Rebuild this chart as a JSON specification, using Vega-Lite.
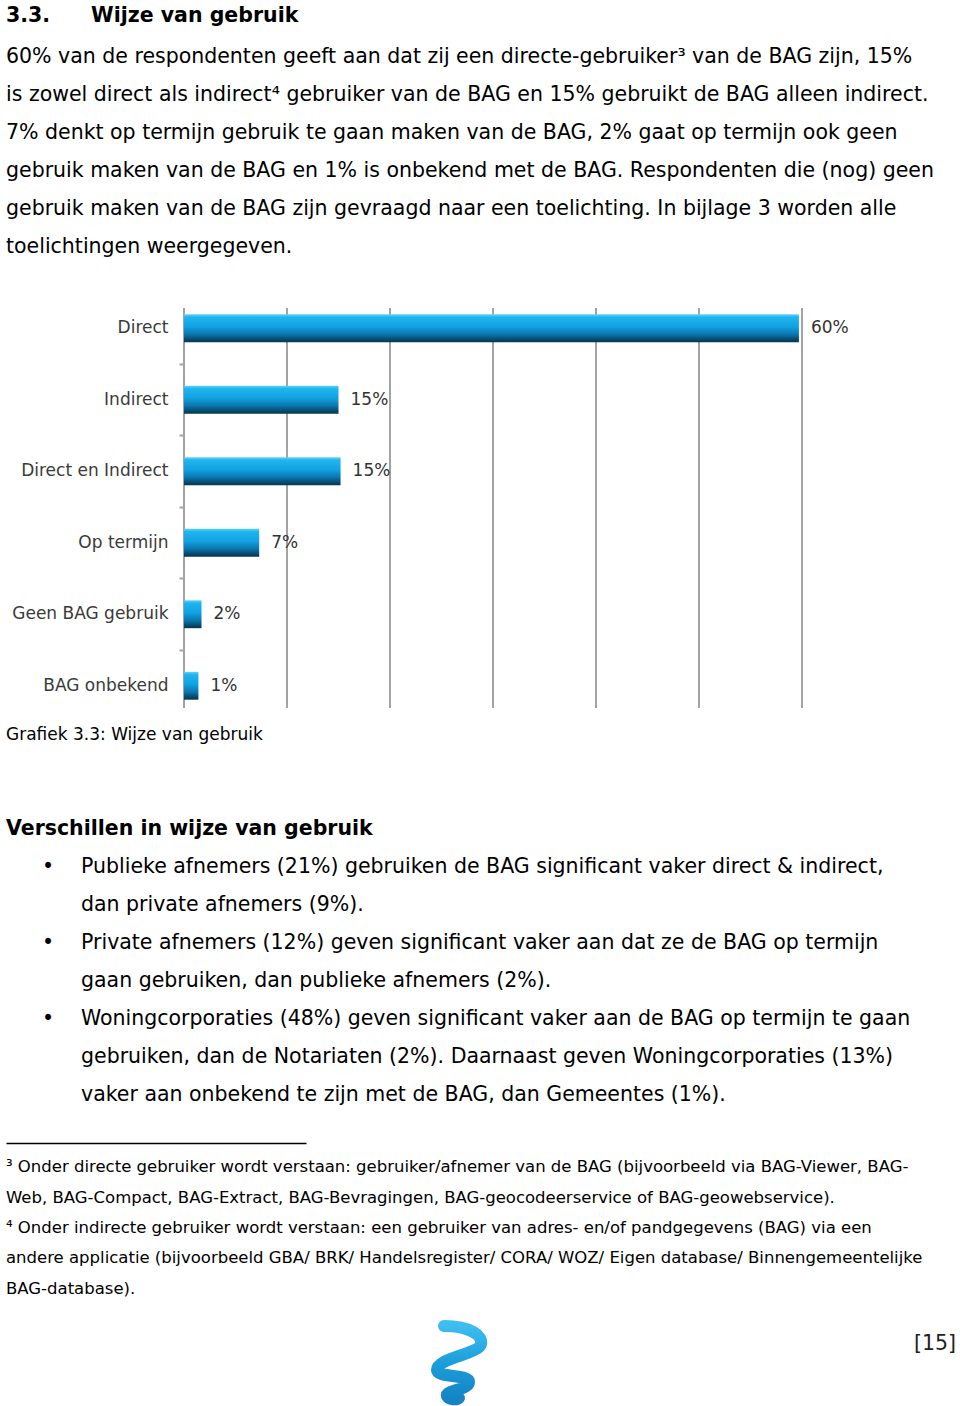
{
  "$schema": "https://vega.github.io/schema/vega-lite/v6.json",
  "background": "white",
  "padding": 5,
  "config": {"view": {"stroke": "transparent"}, "font": "DejaVu Sans"},
  "title": {
    "text": "3.3.\u2003\u2003Wijze van gebruik",
    "subtitle": [
      "60% van de respondenten geeft aan dat zij een directe-gebruiker³ van de BAG zijn, 15%",
      "is zowel direct als indirect⁴ gebruiker van de BAG en 15% gebruikt de BAG alleen indirect.",
      "7% denkt op termijn gebruik te gaan maken van de BAG, 2% gaat op termijn ook geen",
      "gebruik maken van de BAG en 1% is onbekend met de BAG. Respondenten die (nog) geen",
      "gebruik maken van de BAG zijn gevraagd naar een toelichting. In bijlage 3 worden alle",
      "toelichtingen weergegeven."
    ],
    "anchor": "start",
    "frame": "group",
    "baseline": "top",
    "font": "DejaVu Sans",
    "fontSize": 20.5,
    "fontWeight": "bold",
    "color": "#000000",
    "subtitleFont": "DejaVu Sans",
    "subtitleFontSize": 20.5,
    "subtitleFontWeight": "normal",
    "subtitleColor": "#000000",
    "subtitleLineHeight": 38,
    "subtitlePadding": 21,
    "offset": 34
  },
  "spacing": 74,
  "vconcat": [
    {
      "width": 796,
      "height": 400,
      "data": {"values": [
        {"categorie": "Direct", "percentage": 59.7, "label": "60%"},
        {"categorie": "Indirect", "percentage": 15.0, "label": "15%"},
        {"categorie": "Direct en Indirect", "percentage": 15.2, "label": "15%"},
        {"categorie": "Op termijn", "percentage": 7.3, "label": "7%"},
        {"categorie": "Geen BAG gebruik", "percentage": 1.7, "label": "2%"},
        {"categorie": "BAG onbekend", "percentage": 1.4, "label": "1%"}
      ]},
      "title": {
        "text": "Grafiek 3.3: Wijze van gebruik",
        "orient": "bottom",
        "anchor": "start",
        "frame": "group",
        "baseline": "top",
        "offset": -10,
        "font": "DejaVu Sans",
        "fontSize": 17,
        "fontWeight": "normal",
        "color": "#000000"
      },
      "layer": [
        {
          "data": {"values": [
            {"rasterlijn": 0}, {"rasterlijn": 10}, {"rasterlijn": 20}, {"rasterlijn": 30},
            {"rasterlijn": 40}, {"rasterlijn": 50}, {"rasterlijn": 60}
          ]},
          "mark": {"type": "rule", "color": "#a3a3a3", "strokeWidth": 2},
          "encoding": {
            "x": {"field": "rasterlijn", "type": "quantitative", "scale": {"domain": [0, 60], "range": [178, 796]}, "axis": null}
          }
        },
        {
          "mark": {
            "type": "bar",
            "height": {"band": 0.39},
            "color": {
              "gradient": "linear", "x1": 0, "y1": 0, "x2": 0, "y2": 1,
              "stops": [
                {"offset": 0, "color": "#62d2f7"},
                {"offset": 0.1, "color": "#1eb6f0"},
                {"offset": 0.45, "color": "#12a0e0"},
                {"offset": 0.72, "color": "#0b76ad"},
                {"offset": 0.9, "color": "#074a6e"},
                {"offset": 1, "color": "#053552"}
              ]
            }
          },
          "encoding": {
            "x": {"field": "percentage", "type": "quantitative", "axis": null},
            "y": {
              "field": "categorie",
              "type": "nominal",
              "sort": null,
              "scale": {"type": "band", "range": [-15.5, 413.5], "paddingInner": 0, "paddingOuter": 0},
              "axis": {
                "title": null,
                "grid": false,
                "domain": false,
                "offset": -178,
                "tickColor": "#a3a3a3",
                "tickWidth": 2,
                "tickSize": 5,
                "bandPosition": 0,
                "tickOpacity": {"condition": {"test": "datum.value === 'Direct'", "value": 0}, "value": 1},
                "labelFont": "DejaVu Sans",
                "labelFontSize": 17,
                "labelColor": "#3a3a3a",
                "labelPadding": 11,
                "labelLimit": 300
              }
            }
          }
        },
        {
          "mark": {"type": "text", "align": "left", "baseline": "middle", "dx": 12, "font": "DejaVu Sans", "fontSize": 17, "color": "#333333"},
          "encoding": {
            "x": {"field": "percentage", "type": "quantitative", "axis": null},
            "y": {"field": "categorie", "type": "nominal", "sort": null},
            "text": {"field": "label"}
          }
        }
      ]
    },
    {
      "spacing": 27,
      "vconcat": [
        {
          "width": 75,
          "height": 266,
          "data": {"values": [
            {"regel": 1, "opsomming": "•", "tekst": "Publieke afnemers (21%) gebruiken de BAG significant vaker direct & indirect,"},
            {"regel": 2, "opsomming": "", "tekst": "dan private afnemers (9%)."},
            {"regel": 3, "opsomming": "•", "tekst": "Private afnemers (12%) geven significant vaker aan dat ze de BAG op termijn"},
            {"regel": 4, "opsomming": "", "tekst": "gaan gebruiken, dan publieke afnemers (2%)."},
            {"regel": 5, "opsomming": "•", "tekst": "Woningcorporaties (48%) geven significant vaker aan de BAG op termijn te gaan"},
            {"regel": 6, "opsomming": "", "tekst": "gebruiken, dan de Notariaten (2%). Daarnaast geven Woningcorporaties (13%)"},
            {"regel": 7, "opsomming": "", "tekst": "vaker aan onbekend te zijn met de BAG, dan Gemeentes (1%)."}
          ]},
          "title": {
            "text": "Verschillen in wijze van gebruik",
            "anchor": "start",
            "frame": "group",
            "baseline": "top",
            "offset": 9,
            "font": "DejaVu Sans",
            "fontSize": 20.5,
            "fontWeight": "bold",
            "color": "#000000"
          },
          "encoding": {
            "y": {"field": "regel", "type": "ordinal", "axis": null, "scale": {"type": "band", "paddingInner": 0, "paddingOuter": 0}}
          },
          "layer": [
            {
              "mark": {"type": "text", "align": "center", "baseline": "middle", "font": "DejaVu Sans", "fontSize": 20.5, "color": "#000000"},
              "encoding": {
                "x": {"datum": "opsomming", "type": "nominal", "scale": {"type": "point", "domain": ["opsomming", "tekst"], "range": [42, 75], "padding": 0}, "axis": null},
                "text": {"field": "opsomming"}
              }
            },
            {
              "mark": {"type": "text", "align": "left", "baseline": "middle", "font": "DejaVu Sans", "fontSize": 20.5, "color": "#000000"},
              "encoding": {
                "x": {"datum": "tekst", "type": "nominal", "axis": null},
                "text": {"field": "tekst"}
              }
            }
          ]
        },
        {
          "spacing": -13,
          "vconcat": [
            {
              "width": 300,
              "height": 170,
              "data": {"values": [
                {"regel": 1, "tekst": "³ Onder directe gebruiker wordt verstaan: gebruiker/afnemer van de BAG (bijvoorbeeld via BAG-Viewer, BAG-"},
                {"regel": 2, "tekst": "Web, BAG-Compact, BAG-Extract, BAG-Bevragingen, BAG-geocodeerservice of BAG-geowebservice)."},
                {"regel": 3, "tekst": "⁴ Onder indirecte gebruiker wordt verstaan: een gebruiker van adres- en/of pandgegevens (BAG) via een"},
                {"regel": 4, "tekst": "andere applicatie (bijvoorbeeld GBA/ BRK/ Handelsregister/ CORA/ WOZ/ Eigen database/ Binnengemeentelijke"},
                {"regel": 5, "tekst": "BAG-database)."}
              ]},
              "mark": {"type": "text", "align": "left", "baseline": "middle", "font": "DejaVu Sans", "fontSize": 16.5, "color": "#000000"},
              "encoding": {
                "x": {
                  "datum": 0,
                  "type": "quantitative",
                  "scale": {"domain": [0, 1]},
                  "axis": {"orient": "top", "title": null, "domain": true, "domainColor": "#000000", "domainWidth": 1.5, "ticks": false, "labels": false, "grid": false}
                },
                "y": {"field": "regel", "type": "ordinal", "axis": null, "scale": {"type": "band", "paddingInner": 0, "paddingOuter": 0.287}},
                "text": {"field": "tekst"}
              }
            },
            {
              "width": 950,
              "height": 80,
              "data": {"values": [
                {"element": "logo", "tekst": ""},
                {"element": "pagina", "tekst": "[15]"}
              ]},
              "encoding": {
                "x": {"field": "element", "type": "nominal", "scale": {"type": "point", "domain": ["logo", "pagina"], "range": [453, 950], "padding": 0}, "axis": null}
              },
              "layer": [
                {
                  "transform": [{"filter": "datum.element === 'logo'"}],
                  "mark": {
                    "type": "point",
                    "shape": "M -0.375,-0.9 C 0.3,-0.9 0.6,-0.65 0.55,-0.45 C 0.5,-0.2 -0.55,-0.1 -0.55,0.2 C -0.55,0.4 0.25,0.3 0.25,0.5 C 0.25,0.7 -0.35,0.7 -0.3,0.85 C -0.25,0.95 -0.05,0.95 0,0.9",
                    "size": 6400,
                    "filled": false,
                    "stroke": {
                      "gradient": "linear", "x1": 0, "y1": 0, "x2": 0, "y2": 1,
                      "stops": [
                        {"offset": 0, "color": "#3dbdf0"},
                        {"offset": 0.5, "color": "#1c9edb"},
                        {"offset": 1, "color": "#1583c4"}
                      ]
                    },
                    "strokeWidth": 12,
                    "strokeCap": "round",
                    "opacity": 1
                  }
                },
                {
                  "transform": [{"filter": "datum.element === 'pagina'"}],
                  "mark": {"type": "text", "align": "right", "baseline": "bottom", "dy": -8, "font": "DejaVu Sans", "fontSize": 20.5, "color": "#222222"},
                  "encoding": {"text": {"field": "tekst"}}
                }
              ]
            }
          ]
        }
      ]
    }
  ]
}
